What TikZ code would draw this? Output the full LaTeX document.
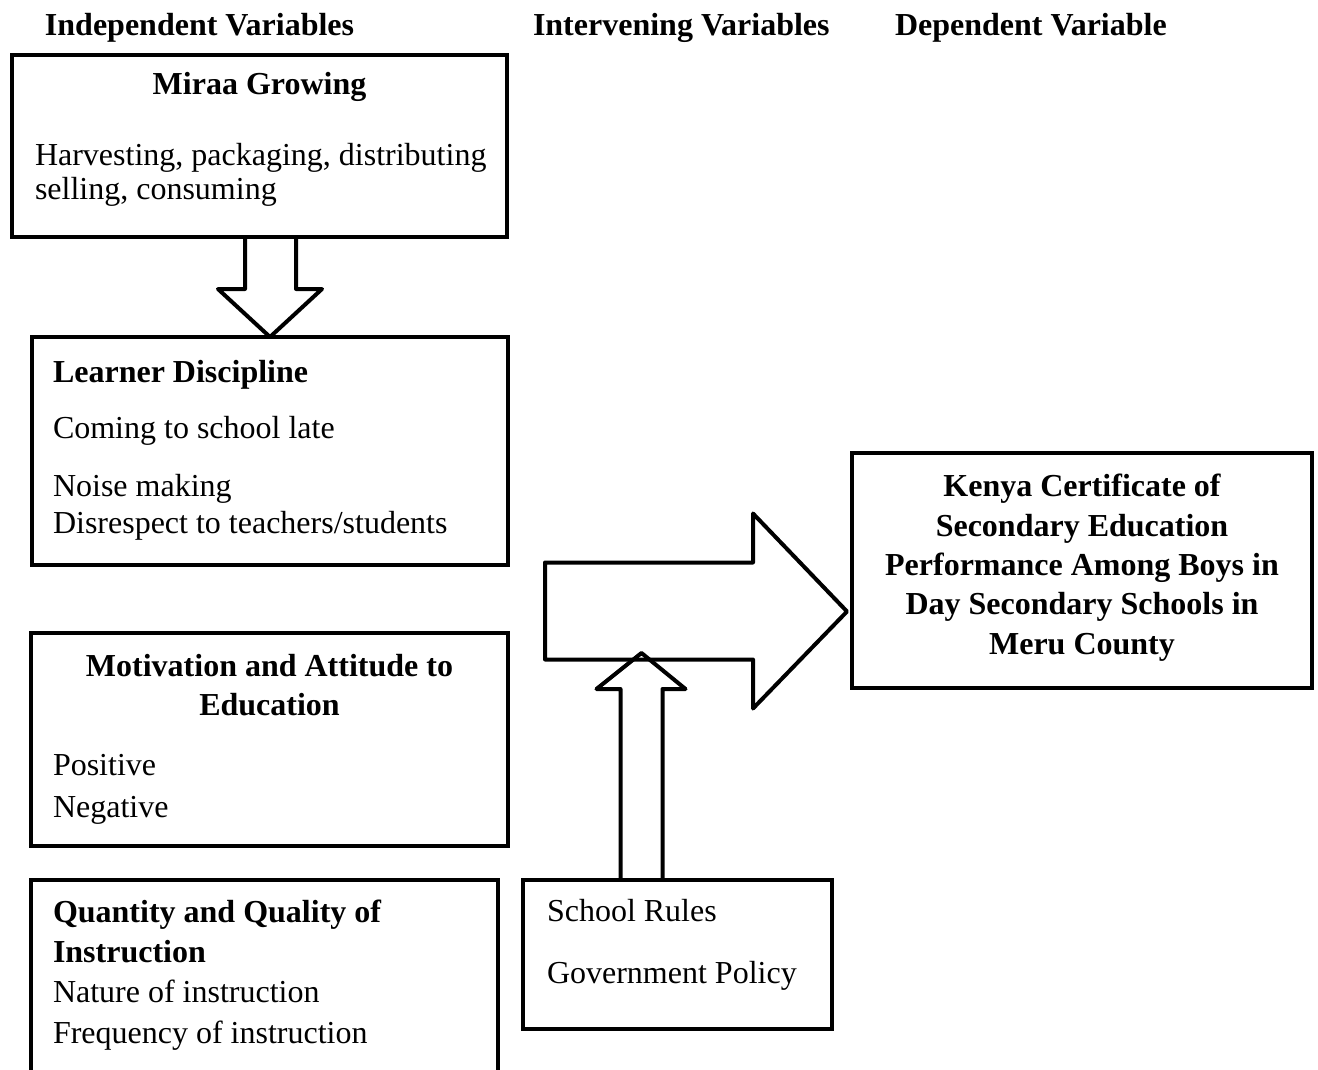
\documentclass[tikz,border=0pt]{standalone}
\usepackage{fontspec}
\setmainfont{Liberation Serif}
\usetikzlibrary{positioning,calc}

\begin{document}
\begin{tikzpicture}[x=1pt,y=-1pt]
		\tikzstyle{every node}+=[inner sep=0pt, outer sep=0pt, font=\fontsize{32}{36.8}\selectfont]
		\tikzstyle{frame}=[draw=black, line width=4.5pt, anchor=north west]
		\tikzstyle{blockarrow}=[draw=black, line width=4pt, line join=round]
		\tikzstyle{hd}=[anchor=base west, font=\fontsize{32}{36.8}\selectfont\bfseries]
		\tikzstyle{txt}=[anchor=base west, align=left]
		\tikzstyle{ctxt}=[anchor=base, align=center, font=\fontsize{32}{36.8}\selectfont\bfseries]
		\path [use as bounding box, clip] (0,0) rectangle (1318,1070);
		\node [hd] (indep) at (45,36) {Independent Variables};
		\node [hd] (interv) at (533,36) {Intervening Variables};
		\node [hd] (dep) at (895,36) {Dependent Variable};
		\node [frame, minimum width=495, minimum height=182] (miraa) at (12,55) {};
		\node [ctxt] (miraahd) at ($(miraa.north)+(0,40)$) {Miraa Growing};
		\node [txt] (miraatx) at ($(miraa.north west)+(23,145)$) {Harvesting, packaging, distributing\\[-2pt]selling, consuming};
		\node [frame, minimum width=476, minimum height=228] (learner) at (32,337) {};
		\node [txt] (learnertx) at ($(learner.north west)+(21,196)$) {\textbf{Learner Discipline}\\[19pt]Coming to school late\\[21pt]Noise making\\Disrespect to teachers/students};
		\node [frame, minimum width=477, minimum height=213] (motiv) at (31,633) {};
		\node [ctxt] (motivhd) at ($(motiv.north)+(0,82)$) {Motivation and Attitude to\\[2pt]Education};
		\node [txt] (motivtx) at ($(motiv.north west)+(22,184)$) {Positive\\[5pt]Negative};
		\node [frame, minimum width=467, minimum height=260] (instr) at (31,880) {};
		\node [txt] (instrtx) at ($(instr.north west)+(22,163)$) {\textbf{Quantity and Quality of}\\[3.5pt]\textbf{Instruction}\\[3.5pt]Nature of instruction\\[3.5pt]Frequency of instruction};
		\node [frame, minimum width=309, minimum height=149] (rules) at (523,880) {};
		\node [txt] (rulestx) at ($(rules.north west)+(24,103)$) {School Rules\\[25pt]Government Policy};
		\node [frame, minimum width=460, minimum height=235] (kcse) at (852,453) {};
		\node [ctxt] (kcsetx) at ($(kcse.north)+(0,201)$) {Kenya Certificate of\\[2.5pt]Secondary Education\\[2.5pt]Performance Among Boys in\\[2.5pt]Day Secondary Schools in\\[2.5pt]Meru County};
		\draw [blockarrow] ($(learner.north)+(-25,-100)$) -- ($(learner.north)+(-25,-48)$) -- ($(learner.north)+(-52,-48)$) -- (learner.north) -- ($(learner.north)+(52,-48)$) -- ($(learner.north)+(26,-48)$) -- ($(learner.north)+(26,-100)$);
		\coordinate (bigtip) at ($(kcse.west)+(-5,41)$);
		\draw [blockarrow] (bigtip) -- ++(-94,-98) -- ++(0,49) -- ++(-208,0) -- ++(0,97) -- ++(208,0) -- ++(0,49) -- cycle;
		\coordinate (uptip) at ($(rules.north)+(-36,-227)$);
		\draw [blockarrow] ($(uptip)+(-21,227)$) -- ($(uptip)+(-21,36)$) -- ($(uptip)+(-45,36)$) -- (uptip) -- ($(uptip)+(44,36)$) -- ($(uptip)+(21,36)$) -- ($(uptip)+(21,227)$);
	\end{tikzpicture}
\end{document}
